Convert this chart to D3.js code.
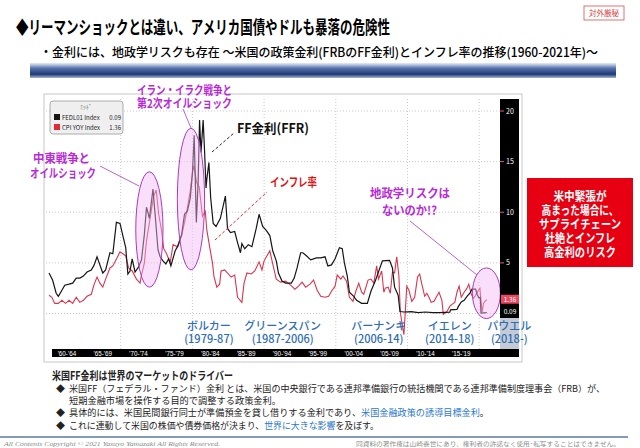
<!DOCTYPE html>
<html lang="ja">
<head>
<meta charset="UTF-8">
<title>FF金利とインフレ率の推移</title>
<script src="https://cdn.jsdelivr.net/npm/d3@7"></script>
<style>
  body { margin: 0; background: #fff; }
  svg text { font-family: "Noto Sans CJK JP", "Noto Sans", sans-serif; }
</style>
</head>
<body>
<div id="chart"></div>
<script>
// FF rate (FEDL01)
const ffDates = [1960.0,1960.5,1961.0,1961.3,1961.8,1962.2,1962.8,1963.3,1963.8,1964.3,1964.8,1965.3,1965.9,1966.3,1966.7,1967.0,1967.5,1967.9,1968.5,1968.9,
  1969.4,1969.9,1970.3,1970.7,1971.0,1971.3,1971.6,1972.0,1972.5,1972.9,1973.3,1973.6,1974.0,1974.5,1974.8,1975.2,1975.5,1975.9,1976.3,1976.7,
  1977.0,1977.6,1978.0,1978.5,1978.9,1979.3,1979.7,1980.0,1980.25,1980.55,1980.8,1981.0,1981.2,1981.5,1981.7,1981.9,1982.0,1982.3,1982.55,1982.9,
  1983.3,1983.9,1984.6,1984.9,1985.3,1985.9,1986.3,1986.7,1986.9,1987.3,1987.8,1988.3,1988.9,1989.3,1989.8,1990.3,1990.8,1991.2,1991.7,1992.0,
  1992.5,1993.0,1993.8,1994.2,1994.6,1995.1,1995.4,1995.9,1996.5,1997.3,1997.9,1998.5,1998.9,1999.4,1999.9,2000.5,2000.9,2001.2,2001.6,2001.9,
  2002.5,2002.9,2003.6,2004.4,2004.9,2005.5,2005.9,2006.5,2007.5,2007.9,2008.2,2008.7,2008.95,2009.5,2010.5,2011.5,2012.5,2013.5,2014.5,2015.9,
  2016.0,2016.9,2017.1,2017.5,2017.9,2018.3,2018.7,2019.0,2019.5,2019.7,2019.95,2020.15,2020.25,2021.05];
const ffRates = [4.0,3.3,2.0,1.7,2.3,2.8,2.9,3.0,3.5,3.5,3.7,4.1,4.3,4.8,5.6,5.0,4.0,4.3,6.0,5.9,
  9.0,8.9,7.7,6.5,3.9,4.2,5.4,4.1,4.6,5.3,7.8,10.5,9.4,12.3,9.8,6.3,5.6,5.2,4.9,5.4,
  4.7,6.2,6.7,7.8,9.8,10.1,11.4,13.8,17.6,9.0,13.0,19.1,15.9,19.1,16.0,12.4,13.2,14.9,11.4,8.9,
  8.6,9.4,11.6,8.4,8.0,8.1,7.0,6.0,6.9,6.4,6.8,6.6,8.4,9.8,8.6,8.2,7.7,6.2,5.2,4.0,
  3.2,3.0,3.0,3.5,4.5,6.0,6.0,5.7,5.3,5.5,5.5,5.6,4.7,4.8,5.4,6.5,6.4,5.0,3.7,2.1,
  1.7,1.3,1.0,1.0,2.2,3.2,4.0,5.2,5.25,4.5,2.6,1.8,0.2,0.15,0.18,0.08,0.15,0.09,0.09,0.13,
  0.36,0.4,0.7,1.15,1.3,1.7,2.0,2.4,2.4,1.9,1.55,1.6,0.05,0.09];

// CPI YoY
const cpiDates = [1960.0,1960.4,1960.8,1961.3,1961.8,1962.3,1962.8,1963.3,1963.8,1964.3,1964.8,1965.3,1965.9,1966.3,1966.7,1967.1,1967.5,1967.9,1968.5,1968.9,
  1969.5,1969.9,1970.3,1970.7,1971.1,1971.6,1972.2,1972.7,1972.9,1973.3,1973.6,1973.9,1974.3,1974.6,1974.95,1975.3,1975.7,1976.0,1976.4,1976.9,
  1977.3,1977.9,1978.5,1978.9,1979.3,1979.7,1980.0,1980.2,1980.6,1980.95,1981.4,1981.8,1982.0,1982.4,1982.8,1983.0,1983.4,1983.8,1984.0,1984.5,
  1984.9,1985.4,1985.9,1986.3,1986.9,1987.2,1987.6,1988.2,1988.7,1989.3,1989.7,1990.0,1990.8,1991.2,1991.7,1992.3,1993.0,1993.7,1994.3,1994.8,
  1995.3,1995.8,1996.4,1996.9,1997.4,1997.9,1998.5,1999.0,1999.4,1999.9,2000.2,2000.7,2001.0,2001.5,2001.9,2002.4,2002.8,2003.2,2003.6,2003.9,
  2004.5,2004.9,2005.3,2005.7,2005.95,2006.4,2006.7,2006.9,2007.3,2007.6,2007.9,2008.2,2008.5,2008.8,2009.0,2009.5,2009.9,2010.2,2010.6,2011.0,
  2011.4,2011.7,2012.0,2012.4,2012.7,2013.0,2013.3,2013.7,2014.0,2014.4,2014.8,2015.0,2015.5,2015.9,2016.2,2016.6,2016.9,2017.2,2017.5,2017.9,
  2018.3,2018.55,2018.9,2019.2,2019.5,2019.9,2020.1,2020.4,2020.6,2020.8,2021.05];
const cpiRates = [1.8,1.6,1.0,1.0,1.3,1.0,1.3,1.0,1.6,1.1,1.3,1.7,1.9,2.9,3.6,3.0,2.6,3.4,4.5,4.7,
  5.5,6.1,5.9,5.7,4.5,4.2,3.4,3.0,3.8,5.0,7.2,8.5,10.3,11.6,12.2,9.8,8.2,6.4,5.9,5.0,
  6.8,6.6,7.7,9.0,10.4,12.1,13.9,14.6,12.9,12.5,9.6,10.1,8.3,6.6,5.0,3.7,2.6,2.9,4.2,4.3,
  4.0,3.6,3.8,1.6,1.1,3.0,4.0,3.9,4.2,5.1,4.3,5.2,6.2,4.9,3.4,3.1,3.2,2.8,2.4,2.7,
  3.1,2.6,2.9,3.3,2.3,1.7,1.6,1.7,2.2,2.7,3.8,3.4,3.7,3.2,1.6,1.2,2.2,3.0,2.1,1.9,
  3.3,3.4,3.0,4.7,3.4,4.2,2.1,2.5,2.6,2.0,4.1,4.0,5.6,3.7,0.1,-2.1,2.7,2.3,1.2,1.6,
  3.6,3.9,2.9,1.7,2.0,1.6,1.1,1.2,1.6,2.1,1.3,-0.1,0.2,0.7,0.9,1.1,2.1,2.7,1.6,2.1,
  2.5,2.9,1.9,1.5,1.8,2.3,2.5,0.1,1.0,1.2,1.36];

const yTicks = [5, 10, 15, 20];
const gridValues = [0, 5, 10, 15, 20];
const gridYears = [1970, 1980, 1990, 2000, 2010, 2020];
const periodStarts = [1960, 1965, 1970, 1975, 1980, 1985, 1990, 1995, 2000, 2005, 2010, 2015];
const periodLabels = ["'60-'64", "'65-'69", "'70-'74", "'75-'79", "'80-'84", "'85-'89", "'90-'94", "'95-'99", "'00-'04", "'05-'09", "'10-'14", "'15-'19"];
const chairNames = ["ボルカー", "グリーンスパン", "バーナンキ", "イエレン", "パウエル"];
const chairTerms = ["(1979-87)", "(1987-2006)", "(2006-14)", "(2014-18)", "(2018-)"];
const chairYears = [1982.3, 1992.6, 2006.0, 2015.9, 2024.2];
const lastFF = 0.09, lastCPI = 1.36;
// highlighted episodes: [center year, center value, half-width in years, half-height in %]
const episodes = [[1974.0, 8.3, 1.9, 5.7], [1979.8, 11.3, 1.9, 7.0], [2021.0, 2.0, 1.95, 2.5]];

const W = 640, H = 448;
const svg = d3.select("#chart").append("svg").attr("width", W).attr("height", H);
svg.append("rect").attr("width", W).attr("height", H).attr("fill", "#fff");

const x = d3.scaleLinear().domain([1960, 2020]).range([49, 479.2]);
const y = d3.scaleLinear().domain([0, 20]).range([313.5, 111]);
const plot = { left: 46, right: 500, top: 99, bottom: 349 };

// header
svg.append("rect").attr("x", 584).attr("y", 6).attr("width", 40).attr("height", 14)
  .attr("fill", "#fff").attr("stroke", "#d45050").attr("stroke-width", 0.8);
svg.append("text").attr("x", 604).attr("y", 16).attr("text-anchor", "middle")
  .attr("font-size", 7.5).attr("fill", "#d04040").text("対外厳秘");

svg.append("text").attr("x", 16).attr("y", 34).attr("font-size", 18).attr("font-weight", "bold")
  .attr("textLength", 374).attr("lengthAdjust", "spacingAndGlyphs")
  .text("◆リーマンショックとは違い、アメリカ国債やドルも暴落の危険性");
svg.append("text").attr("x", 40).attr("y", 57).attr("font-size", 12.5).attr("font-weight", 500)
  .attr("textLength", 558).attr("lengthAdjust", "spacingAndGlyphs")
  .text("・金利には、地政学リスクも存在 ～米国の政策金利(FRBのFF金利)とインフレ率の推移(1960-2021年)～");

const defs = svg.append("defs");
const grad = defs.append("linearGradient").attr("id", "band").attr("x1", 0).attr("x2", 0).attr("y1", 0).attr("y2", 1);
grad.append("stop").attr("offset", "0%").attr("stop-color", "#e6ecf6");
grad.append("stop").attr("offset", "35%").attr("stop-color", "#5673aa");
grad.append("stop").attr("offset", "75%").attr("stop-color", "#1d3a78");
grad.append("stop").attr("offset", "100%").attr("stop-color", "#aab6cf");
svg.append("rect").attr("x", 30).attr("y", 63).attr("width", 586).attr("height", 15).attr("fill", "url(#band)");

// chart panel
svg.append("rect").attr("x", 44).attr("y", 94).attr("width", 478).attr("height", 268)
  .attr("fill", "#fff").attr("stroke", "#c8c8c8");

defs.append("clipPath").attr("id", "clip").append("rect")
  .attr("x", plot.left).attr("y", plot.top).attr("width", plot.right - plot.left).attr("height", plot.bottom - plot.top);

const grid = svg.append("g").attr("stroke", "#bdbdbd").attr("stroke-width", 0.8).attr("stroke-dasharray", "1,2");
grid.selectAll(".gy").data(gridValues).join("line")
  .attr("x1", plot.left).attr("x2", plot.right).attr("y1", d => y(d)).attr("y2", d => y(d));
grid.selectAll(".gx").data(gridYears).join("line")
  .attr("x1", d => x(d)).attr("x2", d => x(d)).attr("y1", plot.top).attr("y2", plot.bottom);

const ffData = ffDates.map((d, i) => [d, ffRates[i]]);
const cpiData = cpiDates.map((d, i) => [d, cpiRates[i]]);
const line = d3.line().x(d => x(d[0])).y(d => y(d[1]));
const lines = svg.append("g").attr("clip-path", "url(#clip)");
lines.append("path").datum(cpiData).attr("d", line).attr("fill", "none")
  .attr("stroke", "#d9354f").attr("stroke-width", 1.1);
lines.append("path").datum(ffData).attr("d", line).attr("fill", "none")
  .attr("stroke", "#151515").attr("stroke-width", 1.2);

// ellipses over the shocks
svg.append("g").selectAll("ellipse").data(episodes).join("ellipse")
  .attr("cx", d => x(d[0])).attr("cy", d => y(d[1]))
  .attr("rx", d => x(d[0] + d[2]) - x(d[0])).attr("ry", d => y(d[1] - d[3]) - y(d[1]))
  .attr("fill", "#f2b8f2").attr("fill-opacity", 0.45).attr("stroke", "#a63cc4").attr("stroke-width", 1);

// legend
const lg = svg.append("g").style("font-family", "'Liberation Sans', sans-serif");
lg.append("rect").attr("x", 50).attr("y", 101).attr("width", 73).attr("height", 33).attr("rx", 3)
  .attr("fill", "#efefef").attr("stroke", "#9a9a9a").attr("stroke-width", 0.8);
lg.append("text").attr("x", 86).attr("y", 109).attr("text-anchor", "middle").attr("font-size", 6)
  .attr("fill", "#666").style("font-family", "'Noto Sans CJK JP', sans-serif").text("ﾐｯﾄﾞ");
[["FEDL01 Index", lastFF, "#151515"], ["CPI YOY Index", lastCPI, "#e0283a"]].forEach((e, i) => {
  const yy = 118 + i * 10;
  lg.append("rect").attr("x", 54).attr("y", yy - 4).attr("width", 6).attr("height", 6).attr("fill", e[2]);
  lg.append("text").attr("x", 62).attr("y", yy + 2).attr("font-size", 6).attr("fill", "#222").text(e[0]);
  lg.append("text").attr("x", 121).attr("y", yy + 2).attr("text-anchor", "end").attr("font-size", 6).attr("fill", "#222")
    .text(e[1].toFixed(2));
});

// right axis strip
svg.append("rect").attr("x", 500).attr("y", 99).attr("width", 19).attr("height", 219).attr("fill", "#000");
svg.append("rect").attr("x", 500).attr("y", 318).attr("width", 19).attr("height", 31).attr("fill", "#c4cbd5");
const ra = svg.append("g").style("font-family", "'Liberation Sans', sans-serif");
ra.selectAll("line").data(yTicks).join("line")
  .attr("x1", 500).attr("x2", 504).attr("y1", d => y(d)).attr("y2", d => y(d)).attr("stroke", "#e05a70").attr("stroke-width", 1);
ra.selectAll("text").data(yTicks).join("text")
  .attr("x", 506).attr("y", d => y(d) + 2.5).attr("font-size", 7).attr("fill", "#fff").text(d => d);
ra.append("rect").attr("x", 501).attr("y", y(lastCPI) - 5).attr("width", 18).attr("height", 9).attr("fill", "#e8475f");
ra.append("text").attr("x", 510).attr("y", y(lastCPI) + 2.3).attr("text-anchor", "middle").attr("font-size", 6.5).attr("fill", "#fff").text(lastCPI.toFixed(2));
ra.append("text").attr("x", 510).attr("y", y(lastFF) + 1.5).attr("text-anchor", "middle").attr("font-size", 6.5).attr("fill", "#fff").text(lastFF.toFixed(2));

// bottom period strip
svg.append("rect").attr("x", 52).attr("y", 349).attr("width", 467).attr("height", 8).attr("fill", "#000");
svg.append("g").selectAll("text").data(periodStarts).join("text")
  .attr("x", d => x(d + 2.5)).attr("y", 355.5).attr("text-anchor", "middle")
  .attr("font-size", 6.3).attr("fill", "#fff").style("font-family", "'Liberation Sans', sans-serif")
  .text((d, i) => periodLabels[i]);

// Fed chairs
const ch = svg.append("g").attr("fill", "#2e6db4").attr("text-anchor", "middle").attr("font-size", 11).attr("font-weight", 500);
ch.selectAll(".n").data(chairYears).join("text").attr("x", d => x(d)).attr("y", 330).text((d, i) => chairNames[i]);
ch.selectAll(".t").data(chairYears).join("text").attr("x", d => x(d)).attr("y", 343).text((d, i) => chairTerms[i]);

// annotations
const pink = "#b72bd6";
const ann = svg.append("g");
function label(t, xx, yy, size, color, len) {
  ann.append("text").attr("x", xx).attr("y", yy).attr("font-size", size).attr("fill", color)
    .attr("font-weight", "bold").attr("textLength", len).attr("lengthAdjust", "spacingAndGlyphs").text(t);
}
label("イラン・イラク戦争と", 137, 94.5, 12, pink, 95);
label("第2次オイルショック", 137, 107.5, 12, pink, 95);
label("中東戦争と", 33, 162.5, 12, pink, 57);
label("オイルショック", 30, 177.5, 12, pink, 66);
label("FF金利(FFR)", 237, 133, 13, "#111", 72);
label("インフレ率", 270, 186.5, 12, "#e01414", 47);
label("地政学リスクは", 370, 197.5, 12, pink, 80);
label("ないのか!?", 382, 214.5, 12, pink, 55);

ann.append("line").attr("x1", 100).attr("y1", 166).attr("x2", 139).attr("y2", 186).attr("stroke", "#a63cc4").attr("stroke-width", 0.8);
ann.append("line").attr("x1", 183).attr("y1", 109).attr("x2", 191).attr("y2", 128).attr("stroke", "#a63cc4").attr("stroke-width", 0.8);
ann.append("line").attr("x1", 410).attr("y1", 221).attr("x2", 477).attr("y2", 275).attr("stroke", "#a63cc4").attr("stroke-width", 0.8);
ann.append("line").attr("x1", 212).attr("y1", 152).attr("x2", 234).attr("y2", 133)
  .attr("stroke", "#111").attr("stroke-width", 0.9).attr("stroke-dasharray", "3,2");
ann.append("line").attr("x1", 215).attr("y1", 240).attr("x2", 267).attr("y2", 192)
  .attr("stroke", "#e01414").attr("stroke-width", 0.9).attr("stroke-dasharray", "3,2");

// red call-out box
svg.append("rect").attr("x", 527).attr("y", 178).attr("width", 106).attr("height", 89).attr("fill", "#e60012");
const boxLines = ["米中緊張が", "高まった場合に、", "サプライチェーン", "杜絶とインフレ", "高金利のリスク"];
const boxWidths = [53, 77, 82, 70, 72];
svg.append("g").selectAll("text").data(boxLines).join("text")
  .attr("x", 580).attr("y", (d, i) => 200.5 + i * 14).attr("text-anchor", "middle")
  .attr("font-size", 12.5).attr("font-weight", "bold").attr("fill", "#fff")
  .attr("textLength", (d, i) => boxWidths[i]).attr("lengthAdjust", "spacingAndGlyphs").text(d => d);

// explanatory text
const notes = svg.append("g").attr("fill", "#222");
// one line made of separately coloured pieces, squeezed to a total width
function noteLine(parts, x0, yy, size, total) {
  const nodes = parts.map(p => notes.append("text").attr("y", yy).attr("font-size", size).attr("fill", p[1]).text(p[0]));
  const nat = nodes.map(n => n.node().getComputedTextLength());
  const sum = d3.sum(nat);
  let cx = x0;
  nodes.forEach((n, i) => {
    const w = nat[i] * total / sum;
    n.attr("x", cx).attr("textLength", w).attr("lengthAdjust", "spacingAndGlyphs");
    cx += w;
  });
}
const blue = "#2e78c8", ink = "#222";
notes.append("text").attr("x", 52).attr("y", 380).attr("font-size", 11).attr("font-weight", "bold")
  .attr("textLength", 181).attr("lengthAdjust", "spacingAndGlyphs").text("米国FF金利は世界のマーケットのドライバー");
[392, 416, 429].forEach(yy => notes.append("text").attr("x", 56).attr("y", yy - 0.5).attr("font-size", 9).text("◆"));
noteLine([["米国FF（フェデラル・ファンド）金利 とは、米国の中央銀行である連邦準備銀行の統括機関である連邦準備制度理事会（FRB）が、", ink]], 69, 392, 9, 536);
noteLine([["短期金融市場を操作する目的で調整する政策金利。", ink]], 69, 404, 9.2, 212);
noteLine([["具体的には、米国民間銀行同士が準備預金を貸し借りする金利であり、", ink], ["米国金融政策の誘導目標金利", blue], ["。", ink]], 69, 416, 9.2, 420);
noteLine([["これに連動して米国の株価や債券価格が決まり、", ink], ["世界に大きな影響", blue], ["を及ぼす。", ink]], 69, 429, 9, 310);

// footer
svg.append("line").attr("x1", 0).attr("x2", 628).attr("y1", 437).attr("y2", 437).attr("stroke", "#5d78a3").attr("stroke-width", 1.5);
svg.append("text").attr("x", 4).attr("y", 446).attr("font-size", 5.5).attr("font-style", "italic").attr("fill", "#8a8a8a")
  .style("font-family", "'Liberation Serif', serif").attr("textLength", 216).attr("lengthAdjust", "spacingAndGlyphs")
  .text("All Contents Copyright © 2021 Yasuyo Yamazaki All Rights Reserved.");
svg.append("text").attr("x", 356).attr("y", 446).attr("font-size", 5.5).attr("fill", "#8a8a8a")
  .attr("textLength", 264).attr("lengthAdjust", "spacingAndGlyphs")
  .text("同資料の著作権は山崎養世にあり、権利者の許諾なく使用･転写することはできません。");
</script>
</body>
</html>
